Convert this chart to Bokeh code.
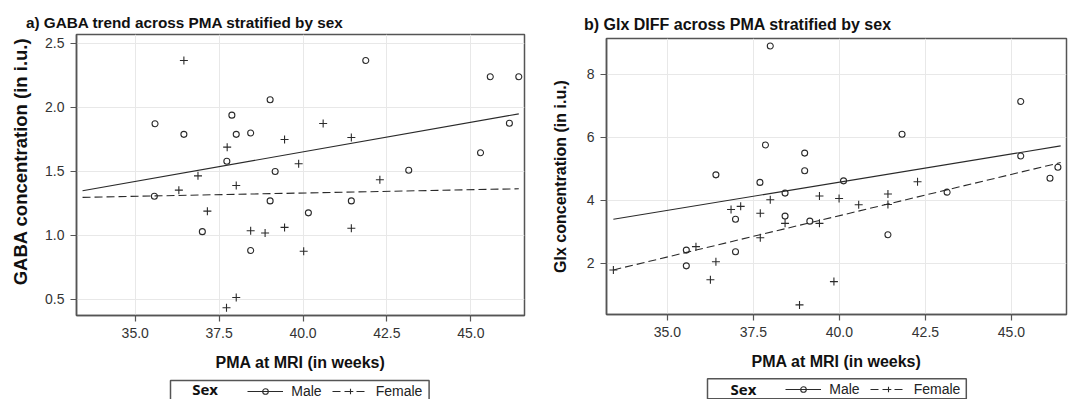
import math
from bokeh.core.properties import value
from bokeh.embed import file_html
from bokeh.resources import INLINE
from bokeh.plotting import figure
from bokeh.layouts import row, column
from bokeh.models import (Range1d, FixedTicker, PrintfTickFormatter,
                          Legend, LegendItem)

# ---------------- data ----------------
x_ticks = [35.0, 37.5, 40.0, 42.5, 45.0]
gaba_ticks = [0.5, 1.0, 1.5, 2.0, 2.5]
glx_ticks = [2, 4, 6, 8]

gaba_male_pma = [35.59, 36.45, 41.87, 39.02, 37.88, 38.01, 38.44, 37.73, 39.17, 43.15,
                 45.58, 46.43, 46.15, 45.29, 35.57, 39.02, 41.44, 37.00, 40.16, 38.44]
gaba_male = [1.873, 1.79, 2.367, 2.06, 1.94, 1.79, 1.80, 1.58, 1.50, 1.51,
             2.24, 2.24, 1.877, 1.646, 1.307, 1.27, 1.27, 1.03, 1.177, 0.883]

gaba_female_pma = [36.45, 37.74, 40.60, 39.45, 41.44, 39.87, 36.87, 38.01, 42.29, 36.30,
                   37.15, 38.44, 38.87, 39.45, 41.44, 40.02, 38.01, 37.72]
gaba_female = [2.367, 1.69, 1.875, 1.75, 1.765, 1.56, 1.466, 1.39, 1.435, 1.354,
               1.19, 1.037, 1.02, 1.063, 1.057, 0.877, 0.516, 0.435]

glx_male_pma = [37.99, 45.27, 45.27, 41.82, 37.85, 38.99, 38.99, 36.41, 37.69, 40.12,
                38.42, 43.13, 46.35, 46.12, 36.98, 38.42, 39.14, 35.55, 36.98, 35.55, 41.41]
glx_male = [8.90, 7.14, 5.41, 6.10, 5.76, 5.50, 4.94, 4.81, 4.57, 4.62,
            4.23, 4.26, 5.05, 4.70, 3.40, 3.50, 3.34, 2.42, 2.37, 1.92, 2.91]

glx_female_pma = [39.42, 39.99, 41.41, 42.27, 37.99, 36.85, 37.13, 37.70, 40.56, 41.41,
                  38.42, 39.42, 37.70, 35.83, 36.41, 36.25, 39.84, 38.84, 33.43]
glx_female = [4.14, 4.06, 4.20, 4.59, 4.02, 3.71, 3.81, 3.59, 3.86, 3.87,
              3.27, 3.27, 2.81, 2.53, 2.05, 1.48, 1.42, 0.68, 1.79]

# fitted trend lines (end points)
fit_pma = [33.43, 46.43]
gaba_male_fit = [1.35, 1.95]
gaba_female_fit = [1.298, 1.365]
glx_male_fit = [3.40, 5.73]
glx_female_fit = [1.79, 5.20]

sex_labels = ["Male", "Female"]

# ---------------- styling ----------------
FONT = "Liberation Sans"
INK = "#2a2a2a"
AXC = "#555555"
NAN = float("nan")
MALE_LINE = dict(line_color=INK, line_width=1.1)
FEMALE_LINE = dict(line_color=INK, line_width=1.1, line_dash="8 4")
MALE_PT = dict(marker="circle", size=6, fill_color=None, line_color=INK, line_width=1.1)
FEMALE_PT = dict(marker="cross", size=8, line_color=INK, line_width=1.1)


def blank_fig(w, h):
    f = figure(width=w, height=h, x_range=Range1d(0, w), y_range=Range1d(0, h),
               output_backend="svg", toolbar_location=None,
               x_axis_location=None, y_axis_location=None, min_border=0)
    f.frame_align = False
    f.outline_line_color = None
    f.grid.visible = False
    f.background_fill_color = "white"
    f.border_fill_color = "white"
    return f


def text_fig(w, h, txt, x, y, size, angle=0.0, align="left", baseline="alphabetic"):
    f = blank_fig(w, h)
    f.text(x=[x], y=[y], text=[txt], angle=angle, text_font=value(FONT),
           text_font_size=value(size), text_font_style="bold", text_color="#111111",
           text_align=align, text_baseline=baseline)
    return f


def legend_fig(w, h, box, sex_xy, loc):
    f = blank_fig(w, h)
    f.quad(left=[box[0]], right=[box[1]], top=[box[2]], bottom=[box[3]],
           fill_color="white", line_color=AXC, line_width=1.5)
    f.text(x=[sex_xy[0]], y=[sex_xy[1]], text=["Sex"], text_font=value("Open Sans"),
           text_font_size=value("15px"), text_font_style="bold", text_color="#111111",
           text_align="left", text_baseline="alphabetic")
    # legend-only renderers (no visible data)
    ml = f.line([NAN], [NAN], **MALE_LINE)
    ms = f.scatter([NAN], [NAN], **MALE_PT)
    fl = f.line([NAN], [NAN], **FEMALE_LINE)
    fs = f.scatter([NAN], [NAN], **FEMALE_PT)
    leg = Legend(items=[LegendItem(label=sex_labels[0], renderers=[ml, ms]),
                        LegendItem(label=sex_labels[1], renderers=[fl, fs])],
                 location=loc, orientation="horizontal", margin=0, padding=0,
                 spacing=10, glyph_width=36, glyph_height=14, label_height=14,
                 label_standoff=8, label_text_font=FONT, label_text_font_size="14px",
                 label_text_color="#222222", border_line_color=None,
                 background_fill_alpha=0)
    f.add_layout(leg)
    return f


def main_fig(width, height, bl, br, bt, bb, xr, yr, yticks, yfmt,
             male_x, male_y, fem_x, fem_y, male_fit, fem_fit, ylabel=None, ylab_standoff=0):
    p = figure(width=width, height=height, x_range=Range1d(*xr), y_range=Range1d(*yr),
               output_backend="svg", toolbar_location=None,
               min_border_left=bl, min_border_right=br, min_border_top=bt, min_border_bottom=bb)
    p.frame_align = False
    p.background_fill_color = "white"
    p.border_fill_color = "white"
    p.outline_line_color = AXC
    p.outline_line_width = 1.5
    p.outline_line_alpha = 1.0

    p.xaxis.ticker = FixedTicker(ticks=x_ticks)
    p.xaxis.formatter = PrintfTickFormatter(format="%.1f")
    p.yaxis.ticker = FixedTicker(ticks=yticks)
    p.yaxis.formatter = PrintfTickFormatter(format=yfmt)
    for ax in (p.xaxis, p.yaxis):
        ax.major_tick_out = 6
        ax.major_tick_in = 0
        ax.minor_tick_out = 0
        ax.minor_tick_in = 0
        ax.major_tick_line_color = AXC
        ax.major_tick_line_width = 1.2
        ax.axis_line_color = AXC
        ax.axis_line_width = 1.5
        ax.major_label_text_font = FONT
        ax.major_label_text_font_size = "14px"
        ax.major_label_text_color = "#333333"
        ax.major_label_standoff = 6
    p.xaxis.axis_label = "PMA at MRI (in weeks)"
    p.xaxis.axis_label_text_font = FONT
    p.xaxis.axis_label_text_font_size = "16px"
    p.xaxis.axis_label_text_font_style = "bold"
    p.xaxis.axis_label_text_color = "#111111"
    p.xaxis.axis_label_standoff = 13
    if ylabel:
        p.yaxis.axis_label = ylabel
        p.yaxis.axis_label_text_font = FONT
        p.yaxis.axis_label_text_font_size = "16px"
        p.yaxis.axis_label_text_font_style = "bold"
        p.yaxis.axis_label_text_color = "#111111"
        p.yaxis.axis_label_standoff = ylab_standoff

    p.xgrid.grid_line_color = "#e8e8e8"
    p.ygrid.grid_line_color = "#e8e8e8"

    p.line(fit_pma, male_fit, **MALE_LINE)
    p.line(fit_pma, fem_fit, **FEMALE_LINE)
    p.scatter(male_x, male_y, **MALE_PT)
    p.scatter(fem_x, fem_y, **FEMALE_PT)
    return p


# ---------------- panel a ----------------
title_a = text_fig(530, 33, "a) GABA trend across PMA stratified by sex", 25.4, 11.3, "15.3px")
ylab_a = text_fig(36, 342, "GABA concentration (in i.u.)", 19.5, 214, "18.5px",
                  angle=math.pi / 2, align="center", baseline="middle")
main_a = main_fig(494, 342, 40, 6, 1, 60, (33.25, 46.6), (0.375, 2.57), gaba_ticks, "%.1f",
                  gaba_male_pma, gaba_male, gaba_female_pma, gaba_female,
                  gaba_male_fit, gaba_female_fit)
leg_a = legend_fig(530, 24, (170, 428.6, 19, -2), (191.7, 10.3), (247.3, 0))

# ---------------- panel b ----------------
title_b = text_fig(541, 37, "b) Glx DIFF across PMA stratified by sex", 53.5, 13.5, "16px")
main_b = main_fig(541, 338, 76, 5, 1, 61, (33.23, 46.6), (0.375, 9.14), glx_ticks, "%d",
                  glx_male_pma, glx_male, glx_female_pma, glx_female,
                  glx_male_fit, glx_female_fit,
                  ylabel="Glx concentration (in i.u.)", ylab_standoff=15)
leg_b = legend_fig(541, 24, (177, 435.8, 20.7, 0.7), (200.1, 10.5), (255.3, 2))

layout = row(column(title_a, row(ylab_a, main_a), leg_a),
             column(title_b, main_b, leg_b))

open("out.html", "w").write(file_html(layout, INLINE))
